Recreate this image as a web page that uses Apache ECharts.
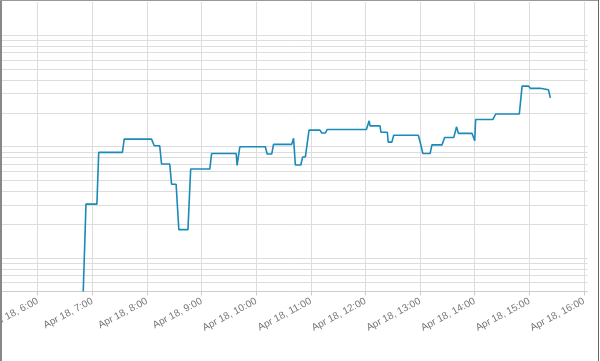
<!DOCTYPE html>
<html>
<head>
<meta charset="utf-8">
<script src="https://cdn.jsdelivr.net/npm/echarts@6/dist/echarts.min.js"></script>
<style>
  html, body { margin: 0; padding: 0; background: #fff; }
  #chart { position: absolute; left: 0; top: 0; width: 600px; height: 361px; }
  .bd { position: absolute; }
</style>
</head>
<body>
<div id="chart"></div>
<div class="bd" style="left:0;top:0;width:2px;height:361px;background:#888;"></div>
<div class="bd" style="left:0;top:0;width:599px;height:1px;background:#999;"></div>
<div class="bd" style="left:598px;top:0;width:1px;height:361px;background:#666;"></div>
<script>
// ---- data (Apr 18, times in HH:MM) ----
const times = [
  '6:50','6:53','7:05','7:07','7:33','7:35','8:05','8:08','8:14','8:16',
  '8:25','8:27','8:32','8:35','8:45','8:48','9:09','9:11','9:38','9:39',
  '9:41','9:42','10:10','10:12','10:17','10:19','10:39','10:41','10:43','10:49',
  '10:51','10:54','10:58','11:10','11:12','11:16','11:18','12:01','12:04','12:05',
  '12:16','12:17','12:24','12:25','12:29','12:31','12:58','13:00','13:03','13:11',
  '13:13','13:24','13:27','13:37','13:40','13:42','13:57','14:00','14:01','14:20',
  '14:23','14:49','14:52','14:59','15:01','15:12','15:13','15:21','15:23'
];
const values = [
  5, 30.5, 30.5, 89, 89, 117, 117, 102, 102, 70,
  70, 46, 46, 18, 18, 63, 63, 87, 87, 68,
  68, 100, 100, 86, 86, 105, 105, 119, 68.5, 68.5,
  81, 81, 141, 141, 133, 133, 143, 143, 171, 154,
  154, 135, 135, 110, 110, 127, 127, 111, 87, 87,
  104, 104, 121, 121, 151, 132, 132, 113, 176, 176,
  197, 197, 351, 351, 335, 335, 325, 325, 275
];
const gridValues = [6, 7, 8, 9, 10, 20, 30, 40, 50, 60, 70, 80, 90, 100,
                    200, 300, 400, 500, 600, 700, 800, 900, 1000];
const yMin = 5, yMax = 2000;
const xStartTime = '5:20', xEndTime = '16:04';
const axisMinTime = '5:00', axisMaxTime = '17:00';
const dateLabel = 'Apr 18, ';

function ts(hm) {
  const [h, m] = hm.split(':').map(Number);
  return Date.UTC(2024, 3, 18, h, m);
}
const HOUR = 3600000;
const xs = ts(xStartTime), xe = ts(xEndTime);
const lastLabelHour = 16;

const seriesData = times.map((t, i) => [ts(t), values[i]]);
const gridLines = gridValues.map(v => [
  { coord: [xs, v] }, { coord: [xe, v] }
]);
const axisLine = [[{ coord: [xs, yMin] }, { coord: [xe, yMin] }]];

const chart = echarts.init(document.getElementById('chart'), null, { renderer: 'canvas' });
chart.setOption({
  animation: false,
  backgroundColor: '#fff',
  grid: { left: -16.9, right: -38.6, top: 2, bottom: 69.5, containLabel: false, outerBoundsMode: 'none' },
  xAxis: {
    type: 'value',
    min: ts(axisMinTime),
    max: ts(axisMaxTime),
    interval: HOUR,
    axisLine: { show: false },
    axisTick: { show: true, length: 4, lineStyle: { color: '#ccc' } },
    splitLine: { show: true, lineStyle: { color: '#ddd', width: 1 } },
    axisLabel: {
      rotate: 28,
      margin: 9,
      color: '#777',
      fontSize: 10,
      fontFamily: 'Liberation Sans, Arial, sans-serif',
      showMinLabel: true,
      showMaxLabel: true,
      hideOverlap: false,
      formatter: function (v) {
        const d = new Date(v);
        const h = d.getUTCHours();
        if (h > lastLabelHour || v < ts('6:00')) return '';
        return dateLabel + h + ':00';
      }
    }
  },
  yAxis: {
    type: 'log',
    logBase: 10,
    min: yMin,
    max: yMax,
    axisLine: { show: false },
    axisTick: { show: false },
    axisLabel: { show: false },
    splitLine: { show: false }
  },
  series: [
    {
      type: 'line',
      data: [],
      silent: true,
      z: 1,
      markLine: {
        silent: true,
        symbol: ['none', 'none'],
        label: { show: false },
        lineStyle: { color: '#ddd', width: 1, type: 'solid' },
        emphasis: { disabled: true },
        animation: false,
        data: gridLines
      }
    },
    {
      type: 'line',
      data: [],
      silent: true,
      z: 1,
      markLine: {
        silent: true,
        symbol: ['none', 'none'],
        label: { show: false },
        lineStyle: { color: '#ccc', width: 1, type: 'solid' },
        emphasis: { disabled: true },
        animation: false,
        data: axisLine
      }
    },
    {
      type: 'line',
      data: seriesData,
      showSymbol: false,
      symbol: 'none',
      z: 5,
      lineStyle: { color: '#1b8ab8', width: 1.6 },
      itemStyle: { color: '#1b8ab8' }
    }
  ]
});
</script>
</body>
</html>
